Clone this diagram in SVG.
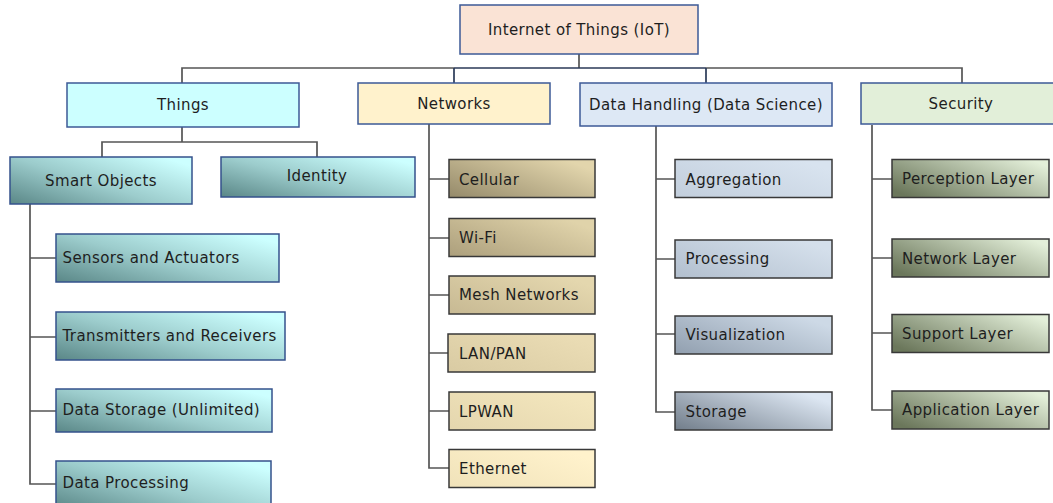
<svg xmlns="http://www.w3.org/2000/svg" width="1053" height="503" viewBox="0 0 1053 503">
  <style>
    text { font-family: "DejaVu Sans", Verdana, sans-serif; font-size: 15px; letter-spacing: 0.4px; fill: #1e1e1e; }
    .c { text-anchor: middle; }
    .top { stroke: #3c5a96; stroke-width: 1.5; }
    .blue { stroke: #34528c; stroke-width: 1.5; }
    .dark { stroke: #383838; stroke-width: 1.5; }
    .wire { fill: none; stroke: #555; stroke-width: 1.7; }
    .wire2 { fill: none; stroke: #2b3a58; stroke-width: 1.7; }
  </style>
  <defs>
    <linearGradient id="teal" x1="0" y1="1" x2="1" y2="0.2">
      <stop offset="0" stop-color="#5a8787"/>
      <stop offset="0.5" stop-color="#9ccccc"/>
      <stop offset="1" stop-color="#ccffff"/>
    </linearGradient>
    <!-- sand shades, darkest at top of the column -->
    <linearGradient id="sand1" x1="0" y1="1" x2="1" y2="0.3">
      <stop offset="0" stop-color="#958a6a"/><stop offset="1" stop-color="#e2d5ac"/>
    </linearGradient>
    <linearGradient id="sand2" x1="0" y1="1" x2="1" y2="0.3">
      <stop offset="0" stop-color="#ac9f7c"/><stop offset="1" stop-color="#e0d3aa"/>
    </linearGradient>
    <linearGradient id="sand3" x1="0" y1="1" x2="1" y2="0.3">
      <stop offset="0" stop-color="#c7b993"/><stop offset="1" stop-color="#e4d7ae"/>
    </linearGradient>
    <linearGradient id="sand4" x1="0" y1="1" x2="1" y2="0.3">
      <stop offset="0" stop-color="#d9cba3"/><stop offset="1" stop-color="#eadcb4"/>
    </linearGradient>
    <linearGradient id="sand5" x1="0" y1="1" x2="1" y2="0.3">
      <stop offset="0" stop-color="#e4d6ae"/><stop offset="1" stop-color="#f3e6bd"/>
    </linearGradient>
    <linearGradient id="sand6" x1="0" y1="1" x2="1" y2="0.3">
      <stop offset="0" stop-color="#f0e2b9"/><stop offset="1" stop-color="#fff2cc"/>
    </linearGradient>
    <!-- steel shades, darkest at bottom of the column -->
    <linearGradient id="steel1" x1="0" y1="1" x2="1" y2="0.3">
      <stop offset="0" stop-color="#c2cedc"/><stop offset="1" stop-color="#d8e3ef"/>
    </linearGradient>
    <linearGradient id="steel2" x1="0" y1="1" x2="1" y2="0.3">
      <stop offset="0" stop-color="#b2bfce"/><stop offset="1" stop-color="#d4dfeb"/>
    </linearGradient>
    <linearGradient id="steel3" x1="0" y1="1" x2="1" y2="0.3">
      <stop offset="0" stop-color="#919faf"/><stop offset="1" stop-color="#cdd9e6"/>
    </linearGradient>
    <linearGradient id="steel4" x1="0" y1="1" x2="1" y2="0.3">
      <stop offset="0" stop-color="#717d8a"/><stop offset="1" stop-color="#dce6f2"/>
    </linearGradient>
    <linearGradient id="olive" x1="0" y1="0.8" x2="1" y2="0.2">
      <stop offset="0" stop-color="#6b775b"/>
      <stop offset="1" stop-color="#e3efd9"/>
    </linearGradient>
  </defs>

  <!-- connectors -->
  <g id="connectors">
    <path class="wire" d="M579 54V68M182 83V68H454M706 68H962V83"/>
    <path class="wire2" d="M454 68H706M454 68V83M706 68V83"/>
    <path class="wire" d="M182 127V142M102 157V142H317V157"/>
    <path class="wire" d="M30 204V484H56M30 258H56M30 337H56M30 411H56"/>
    <path class="wire" d="M429 124V468H449M429 179H449M429 238H449M429 295H449M429 353H449M429 411H449"/>
    <path class="wire" d="M656 126V412H675M656 179H675M656 259H675M656 334H675"/>
    <path class="wire" d="M872 125V410H892M872 179H892M872 258H892M872 333H892"/>
  </g>

  <!-- root -->
  <g id="iot">
    <rect class="top" x="460" y="5" width="238" height="49" fill="#fae3d5"/>
    <text class="c" x="579" y="34.5">Internet of Things (IoT)</text>
  </g>

  <!-- first level -->
  <g id="things">
    <rect class="top" x="67" y="83" width="232" height="44" fill="#ccffff"/>
    <text class="c" x="183" y="110">Things</text>
  </g>
  <g id="networks">
    <rect class="top" x="358" y="83" width="192" height="41" fill="#fff2cc"/>
    <text class="c" x="454" y="108.5">Networks</text>
  </g>
  <g id="data-handling">
    <rect class="top" x="580" y="83" width="252" height="43" fill="#dde8f5"/>
    <text class="c" x="706" y="110">Data Handling (Data Science)</text>
  </g>
  <g id="security">
    <rect class="top" x="861" y="83" width="200" height="41" fill="#e2efd9"/>
    <text class="c" x="961" y="108.5">Security</text>
  </g>

  <!-- Things branch -->
  <g id="smart-objects">
    <rect class="blue" x="10" y="157" width="182" height="47" fill="url(#teal)"/>
    <text class="c" x="101" y="185.5">Smart Objects</text>
  </g>
  <g id="identity">
    <rect class="blue" x="221" y="157" width="194" height="40" fill="url(#teal)"/>
    <text class="c" x="317" y="181">Identity</text>
  </g>
  <g id="sensors">
    <rect class="blue" x="56" y="234" width="223" height="48" fill="url(#teal)"/>
    <text x="62.5" y="262.5">Sensors and Actuators</text>
  </g>
  <g id="transmitters">
    <rect class="blue" x="56" y="312" width="229" height="48" fill="url(#teal)"/>
    <text x="62.5" y="340.5">Transmitters and Receivers</text>
  </g>
  <g id="data-storage">
    <rect class="blue" x="56" y="389" width="216" height="43" fill="url(#teal)"/>
    <text x="62.5" y="415">Data Storage (Unlimited)</text>
  </g>
  <g id="data-processing">
    <rect class="blue" x="56" y="461" width="215" height="48" fill="url(#teal)"/>
    <text x="62.5" y="487.5">Data Processing</text>
  </g>

  <!-- Networks branch -->
  <g id="cellular">
    <rect class="dark" x="449" y="159.5" width="146" height="38" fill="url(#sand1)"/>
    <text x="459" y="184.5">Cellular</text>
  </g>
  <g id="wifi">
    <rect class="dark" x="449" y="218.5" width="146" height="38" fill="url(#sand2)"/>
    <text x="459" y="242.5">Wi-Fi</text>
  </g>
  <g id="mesh">
    <rect class="dark" x="449" y="276" width="146" height="38" fill="url(#sand3)"/>
    <text x="459" y="300">Mesh Networks</text>
  </g>
  <g id="lan-pan">
    <rect class="dark" x="448" y="334" width="147" height="38" fill="url(#sand4)"/>
    <text x="459" y="358.5">LAN/PAN</text>
  </g>
  <g id="lpwan">
    <rect class="dark" x="449" y="392" width="146" height="38" fill="url(#sand5)"/>
    <text x="459" y="416.5">LPWAN</text>
  </g>
  <g id="ethernet">
    <rect class="dark" x="449" y="449.5" width="146" height="38" fill="url(#sand6)"/>
    <text x="459" y="473.5">Ethernet</text>
  </g>

  <!-- Data handling branch -->
  <g id="aggregation">
    <rect class="dark" x="675" y="159.5" width="157" height="38" fill="url(#steel1)"/>
    <text x="685.5" y="184.5">Aggregation</text>
  </g>
  <g id="processing">
    <rect class="dark" x="675" y="240" width="157" height="38" fill="url(#steel2)"/>
    <text x="685.5" y="264">Processing</text>
  </g>
  <g id="visualization">
    <rect class="dark" x="675" y="316" width="157" height="38" fill="url(#steel3)"/>
    <text x="685.5" y="339.5">Visualization</text>
  </g>
  <g id="storage">
    <rect class="dark" x="675" y="392" width="157" height="38" fill="url(#steel4)"/>
    <text x="685.5" y="416.5">Storage</text>
  </g>

  <!-- Security branch -->
  <g id="perception-layer">
    <rect class="dark" x="892" y="159.5" width="157" height="38" fill="url(#olive)"/>
    <text x="902" y="183.5">Perception Layer</text>
  </g>
  <g id="network-layer">
    <rect class="dark" x="892" y="239" width="157" height="38" fill="url(#olive)"/>
    <text x="902" y="263.5">Network Layer</text>
  </g>
  <g id="support-layer">
    <rect class="dark" x="892" y="314.5" width="157" height="38" fill="url(#olive)"/>
    <text x="902" y="338.5">Support Layer</text>
  </g>
  <g id="application-layer">
    <rect class="dark" x="892" y="391" width="157" height="38" fill="url(#olive)"/>
    <text x="902" y="415">Application Layer</text>
  </g>
</svg>
